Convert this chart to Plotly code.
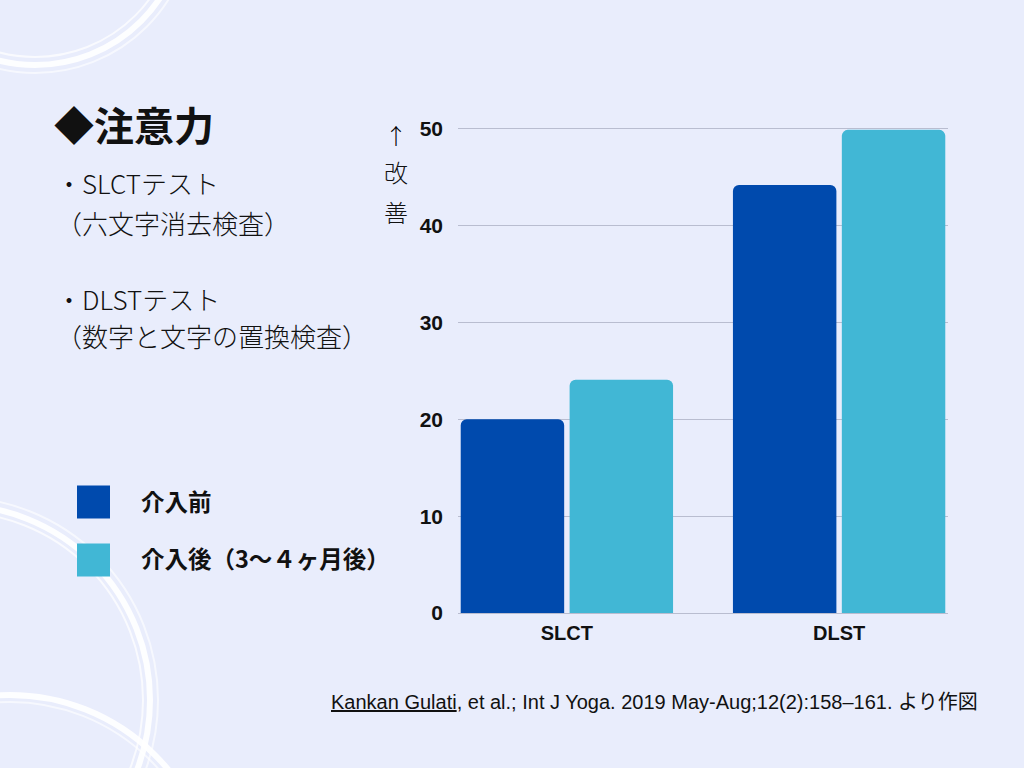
import plotly.graph_objects as go

categories = ["SLCT", "DLST"]
series_names = ["介入前", "介入後（3〜４ヶ月後）"]
before_values = [20.0, 44.2]
after_values = [24.1, 49.9]
series_colors = ["#004AAD", "#41B7D5"]
y_ticks = [0, 10, 20, 30, 40, 50]

W, H = 1024, 768
L, R, T, B = 458, 76, 126, 155
PW, PH = W - L - R, H - T - B


def px(x):
    return (x - L) / PW


def py(y):
    return (H - B - y) / PH


fig = go.Figure()
fig.add_trace(go.Bar(x=categories, y=before_values, name=series_names[0],
                     marker=dict(color=series_colors[0], line=dict(width=0))))
fig.add_trace(go.Bar(x=categories, y=after_values, name=series_names[1],
                     marker=dict(color=series_colors[1], line=dict(width=0))))

bg = "#E9EDFC"
shapes = []
# decorative brush circles
for (cx, cy, r, w, op) in [
    (35, -85, 150, 6, 0.9), (35, -85, 142, 2, 0.7), (35, -85, 158, 2, 0.6),
    (-45, 700, 195, 6, 0.9), (-45, 700, 188, 2, 0.7), (-45, 700, 203, 2, 0.6),
    (10, 900, 205, 6, 0.9), (10, 900, 198, 2, 0.6),
]:
    shapes.append(dict(type="circle", xref="paper", yref="paper",
                       x0=px(cx - r), x1=px(cx + r), y0=py(cy + r), y1=py(cy - r),
                       line=dict(color=f"rgba(255,255,255,{op})", width=w),
                       fillcolor="rgba(0,0,0,0)", layer="below"))
# legend squares
for i, yc in enumerate([502, 560]):
    shapes.append(dict(type="rect", xref="paper", yref="paper",
                       x0=px(77), x1=px(110), y0=py(yc + 16.5), y1=py(yc - 16.5),
                       fillcolor=series_colors[i], line=dict(width=0)))

jp = "Noto Sans CJK JP"
ann = []


def add_text(text, x, y, size, weight="normal", anchor="left", family=jp, color="#111111"):
    ann.append(dict(text=text, xref="paper", yref="paper", x=px(x), y=py(y),
                    xanchor=anchor, yanchor="middle", showarrow=False,
                    font=dict(family=family, size=size, color=color, weight=weight)))


add_text("◆注意力", 52, 124, 40, weight="bold")
add_text("・SLCTテスト", 54, 182, 26, weight=300)
add_text("（六文字消去検査）", 54, 222, 26, weight=300)
add_text("・DLSTテスト", 54, 298, 26, weight=300)
add_text("（数字と文字の置換検査）", 54, 335, 26, weight=300)
add_text(series_names[0], 139, 501, 23.5, weight="bold")
add_text(series_names[1], 139, 558, 23.5, weight="bold")
add_text("↑", 396, 134, 22, anchor="center", weight=300, color="#000000")
add_text("改", 396, 171, 24, anchor="center", weight=300)
add_text("善", 396, 211, 24, anchor="center", weight=300)
add_text("<u>Kankan Gulati</u>, et al.; Int J Yoga. 2019 May-Aug;12(2):158–161. より作図",
         329, 702, 20, family="Liberation Sans, Noto Sans CJK JP", color="#111111")

fig.update_layout(
    width=W, height=H,
    margin=dict(l=L, r=R, t=T, b=B, pad=0),
    paper_bgcolor=bg, plot_bgcolor=bg,
    barmode="group", bargap=0.2, bargroupgap=0.05,
    barcornerradius=6,
    showlegend=False,
    shapes=shapes, annotations=ann,
    xaxis=dict(range=[-0.4, 1.4], showgrid=False, zeroline=False,
               showline=False, ticks="", ticklabelstandoff=6,
               tickfont=dict(family="Liberation Sans", size=20, color="#111111", weight="bold")),
    yaxis=dict(range=[0, 50.3], tickvals=y_ticks, showgrid=True,
               gridcolor="#B9BDD0", gridwidth=1, zeroline=True, zerolinecolor="#B9BDD0",
               zerolinewidth=1, showline=False, ticks="", ticklabelstandoff=14,
               tickfont=dict(family="Liberation Sans", size=21, color="#111111", weight="bold")),
)

fig.write_html("out.html", config={"displayModeBar": False},
               post_script="document.body.style.margin='0';")
